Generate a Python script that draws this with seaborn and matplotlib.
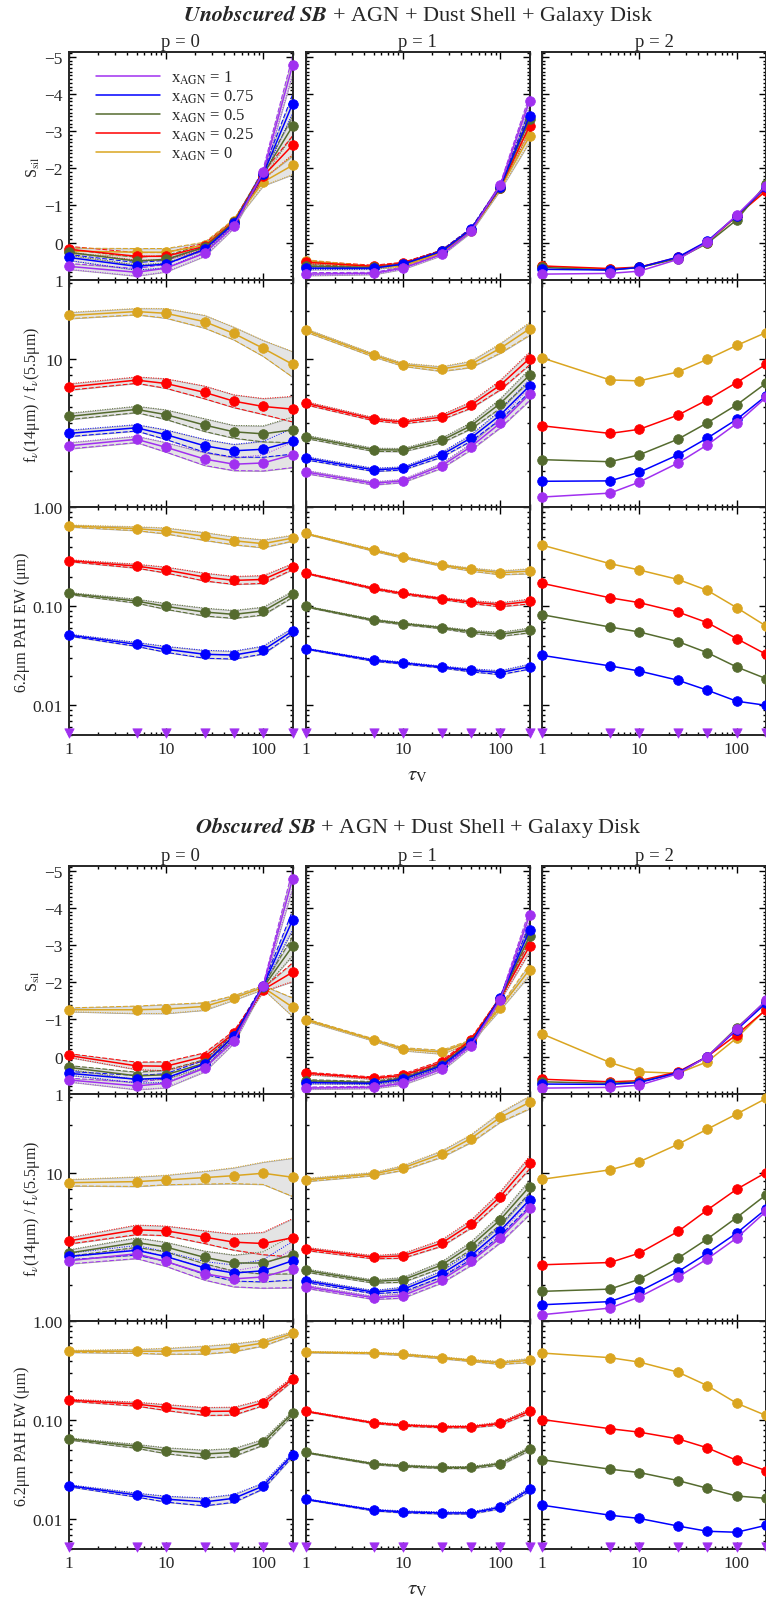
import matplotlib
matplotlib.use('Agg')
import matplotlib.pyplot as plt
import matplotlib.ticker as mticker
from matplotlib.lines import Line2D
import numpy as np
import pandas as pd
import seaborn as sns

TAU = [1, 5, 10, 25, 50, 100, 200]
X_AGN = ['1', '0.75', '0.5', '0.25', '0']
COLORS = ['#A030F0', '#0000FF', '#556B2F', '#FF0000', '#DAA520']
P_LABELS = ['p = 0', 'p = 1', 'p = 2']

# ---- Unobscured SB ----
# silicate strength, rows: x_AGN = 1, 0.75, 0.5, 0.25, 0
U_SSIL_P0 = [[0.64, 0.80, 0.69, 0.29, -0.44, -1.89, -4.77],
             [0.40, 0.64, 0.58, 0.18, -0.52, -1.84, -3.73],
             [0.26, 0.50, 0.45, 0.13, -0.55, -1.84, -3.13],
             [0.18, 0.37, 0.37, 0.10, -0.56, -1.79, -2.62],
             [0.23, 0.26, 0.26, 0.07, -0.58, -1.63, -2.08]]
U_SSIL_P1 = [[0.85, 0.83, 0.69, 0.32, -0.30, -1.54, -3.81],
             [0.69, 0.69, 0.58, 0.23, -0.36, -1.50, -3.40],
             [0.64, 0.67, 0.58, 0.24, -0.34, -1.48, -3.32],
             [0.53, 0.64, 0.56, 0.24, -0.34, -1.48, -3.13],
             [0.50, 0.67, 0.64, 0.27, -0.31, -1.46, -2.86]]
U_SSIL_P2 = [[0.85, 0.83, 0.77, 0.45, -0.01, -0.74, -1.52],
             [0.72, 0.74, 0.67, 0.39, -0.04, -0.72, -1.49],
             [0.67, 0.74, 0.67, 0.43, 0.02, -0.61, -1.57],
             [0.63, 0.70, 0.66, 0.40, -0.02, -0.72, -1.39],
             [0.64, 0.72, 0.67, 0.42, 0.00, -0.71, -1.44]]
# f(14um)/f(5.5um)
U_RATIO_P0 = [[2.87, 3.15, 2.81, 2.37, 2.20, 2.24, 2.52],
              [3.43, 3.72, 3.37, 2.87, 2.67, 2.73, 3.06],
              [4.38, 4.85, 4.50, 3.87, 3.51, 3.41, 3.61],
              [6.70, 7.40, 7.05, 6.20, 5.46, 5.06, 4.87],
              [18.8, 19.9, 19.4, 17.2, 14.5, 11.7, 9.3]]
U_RATIO_P1 = [[1.97, 1.67, 1.73, 2.15, 2.83, 3.98, 6.04],
              [2.40, 2.03, 2.07, 2.52, 3.21, 4.47, 6.81],
              [3.27, 2.71, 2.70, 3.10, 3.83, 5.28, 7.94],
              [5.31, 4.22, 4.04, 4.34, 5.16, 6.88, 10.1],
              [15.2, 10.6, 9.26, 8.70, 9.30, 11.7, 15.5]]
U_RATIO_P2 = [[1.37, 1.45, 1.70, 2.24, 2.91, 3.96, 5.76],
              [1.72, 1.73, 1.96, 2.52, 3.21, 4.20, 5.89],
              [2.35, 2.28, 2.52, 3.16, 4.00, 5.18, 7.08],
              [3.83, 3.43, 3.64, 4.47, 5.57, 7.15, 9.30],
              [10.2, 7.42, 7.32, 8.33, 10.0, 12.2, 14.7]]
# 6.2um PAH EW, rows: x_AGN = 0.75, 0.5, 0.25, 0 (x_AGN = 1 has no PAH)
U_PAH_P0 = [[0.0513, 0.0413, 0.0368, 0.0328, 0.0322, 0.0362, 0.0563],
            [0.135, 0.113, 0.100, 0.0876, 0.083, 0.0897, 0.132],
            [0.29, 0.255, 0.233, 0.198, 0.183, 0.187, 0.252],
            [0.65, 0.61, 0.58, 0.51, 0.46, 0.43, 0.49]]
U_PAH_P1 = [[0.0374, 0.0285, 0.0268, 0.0244, 0.0226, 0.0214, 0.0246],
            [0.0998, 0.0727, 0.0669, 0.0609, 0.0555, 0.0522, 0.0572],
            [0.217, 0.152, 0.135, 0.120, 0.1105, 0.104, 0.112],
            [0.546, 0.37, 0.315, 0.261, 0.236, 0.219, 0.227]]
U_PAH_P2 = [[0.032, 0.025, 0.0222, 0.0179, 0.0142, 0.011, 0.0100],
            [0.0824, 0.0618, 0.0551, 0.044, 0.034, 0.0244, 0.0186],
            [0.171, 0.122, 0.109, 0.0876, 0.0684, 0.0472, 0.0328],
            [0.416, 0.27, 0.233, 0.187, 0.145, 0.097, 0.0633]]

# ---- Obscured SB ----
O_SSIL_P0 = [[0.63, 0.79, 0.72, 0.31, -0.42, -1.90, -4.78],
             [0.45, 0.61, 0.58, 0.20, -0.56, -1.90, -3.67],
             [0.29, 0.52, 0.49, 0.18, -0.54, -1.86, -2.97],
             [-0.03, 0.25, 0.26, 0.00, -0.63, -1.80, -2.27],
             [-1.26, -1.26, -1.28, -1.35, -1.58, -1.86, -1.33]]
O_SSIL_P1 = [[0.85, 0.83, 0.72, 0.34, -0.29, -1.53, -3.80],
             [0.70, 0.72, 0.61, 0.25, -0.36, -1.58, -3.40],
             [0.65, 0.70, 0.59, 0.22, -0.39, -1.56, -3.24],
             [0.45, 0.58, 0.51, 0.16, -0.45, -1.56, -2.97],
             [-0.99, -0.45, -0.20, -0.12, -0.41, -1.31, -2.34]]
O_SSIL_P2 = [[0.85, 0.83, 0.77, 0.46, 0.00, -0.75, -1.51],
             [0.74, 0.75, 0.70, 0.43, 0.00, -0.72, -1.44],
             [0.68, 0.72, 0.68, 0.45, 0.00, -0.77, -1.49],
             [0.61, 0.68, 0.65, 0.41, 0.00, -0.59, -1.26],
             [-0.61, 0.16, 0.41, 0.45, 0.14, -0.50, -1.28]]
O_RATIO_P0 = [[2.83, 3.13, 2.80, 2.35, 2.18, 2.24, 2.53],
              [3.01, 3.29, 3.01, 2.55, 2.37, 2.45, 2.83],
              [3.16, 3.68, 3.45, 2.97, 2.74, 2.74, 3.09],
              [3.77, 4.42, 4.36, 3.98, 3.70, 3.63, 3.94],
              [8.73, 8.86, 9.08, 9.39, 9.66, 10.0, 9.44]]
O_RATIO_P1 = [[1.95, 1.66, 1.71, 2.15, 2.80, 3.93, 6.04],
              [2.12, 1.80, 1.87, 2.34, 3.05, 4.36, 6.81],
              [2.46, 2.10, 2.15, 2.66, 3.51, 5.11, 8.25],
              [3.36, 2.98, 3.04, 3.65, 4.80, 7.14, 11.65],
              [9.08, 9.90, 10.8, 13.2, 16.5, 22.4, 27.8]]
O_RATIO_P2 = [[1.30, 1.43, 1.68, 2.24, 2.91, 3.93, 5.76],
              [1.50, 1.57, 1.82, 2.42, 3.16, 4.22, 5.96],
              [1.82, 1.88, 2.17, 2.94, 3.88, 5.28, 7.32],
              [2.67, 2.76, 3.16, 4.32, 5.90, 7.94, 10.1],
              [9.17, 10.5, 11.8, 15.2, 18.9, 23.5, 29.4]]
O_PAH_P0 = [[0.0219, 0.0176, 0.016, 0.015, 0.0163, 0.0217, 0.045],
            [0.065, 0.0547, 0.0494, 0.0457, 0.0475, 0.060, 0.118],
            [0.16, 0.146, 0.135, 0.123, 0.124, 0.151, 0.262],
            [0.498, 0.50, 0.50, 0.514, 0.543, 0.606, 0.755]]
O_PAH_P1 = [[0.016, 0.0124, 0.0119, 0.0116, 0.0116, 0.0132, 0.0201],
            [0.0475, 0.0364, 0.0347, 0.0334, 0.0334, 0.0364, 0.0518],
            [0.124, 0.0946, 0.0896, 0.0862, 0.0862, 0.093, 0.124],
            [0.49, 0.48, 0.464, 0.43, 0.404, 0.382, 0.404]]
O_PAH_P2 = [[0.0139, 0.011, 0.0102, 0.00855, 0.00757, 0.0074, 0.0087],
            [0.040, 0.0321, 0.0297, 0.0246, 0.0206, 0.0172, 0.0163],
            [0.102, 0.0823, 0.076, 0.065, 0.0527, 0.0394, 0.0311],
            [0.479, 0.43, 0.388, 0.307, 0.224, 0.149, 0.112]]

# x_AGN = 1: PAH undetected, plotted as limits at the floor
PAH_LIMIT = [0.0053, 0.0053, 0.0053, 0.0053, 0.0053, 0.0053, 0.0053]

# half-widths of the grey model spread (S_sil in units, log panels in dex)
U_BAND_SSIL = [[0.08, 0.10, 0.10, 0.08, 0.05, 0.10, 0.25], [0.04, 0.03, 0.03, 0.03, 0.03, 0.05, 0.15]]
U_BAND_RATIO = [[0.02, 0.02, 0.03, 0.04, 0.04, 0.05, 0.08], [0.01, 0.01, 0.01, 0.015, 0.02, 0.03, 0.04]]
U_BAND_PAH = [[0.01, 0.02, 0.03, 0.04, 0.04, 0.04, 0.03], [0.005, 0.01, 0.01, 0.01, 0.015, 0.02, 0.025]]
O_BAND_SSIL = [[0.05, 0.10, 0.12, 0.10, 0.06, 0.05, 0.25], [0.03, 0.03, 0.04, 0.05, 0.04, 0.05, 0.15]]
O_BAND_RATIO = [[0.02, 0.03, 0.03, 0.04, 0.05, 0.07, 0.12], [0.01, 0.01, 0.015, 0.02, 0.025, 0.03, 0.04]]
O_BAND_PAH = [[0.01, 0.02, 0.03, 0.04, 0.04, 0.03, 0.02], [0.005, 0.008, 0.01, 0.01, 0.01, 0.015, 0.02]]

W, H = 766, 1606
COL_X = [68.5, 305.5, 542.0]
COL_W = 224.0
ROW_H = 227.7
BLOCK_TOP = [53.0, 867.0]
TITLE_Y = [15.0, 828.0]


def draw_series(ax, rows, colors, band, log):
    """Draw grey spreads first, then the model lines with markers."""
    if band is not None:
        for vals, col in zip(rows, colors):
            v = np.array(vals)
            b = np.array(band)
            if log:
                lo, hi = v * 10 ** (-b), v * 10 ** b
            else:
                lo, hi = v - b, v + b
            ax.fill_between(TAU, lo, hi, color='#E4E4E4', edgecolor='#A8A8A8',
                            lw=0.6, zorder=1, clip_on=False)
            ax.plot(TAU, lo, ls=(0, (5, 2)), color=col, lw=0.7, zorder=2, clip_on=False)
            ax.plot(TAU, hi, ls=(0, (1, 1.5)), color=col, lw=0.7, zorder=2, clip_on=False)
    for vals, col in reversed(list(zip(rows, colors))):
        df = pd.DataFrame({'tau': TAU, 'val': vals})
        sns.lineplot(data=df, x='tau', y='val', ax=ax, color=col, lw=1.1,
                     marker='o', markersize=7, markeredgecolor=col,
                     markeredgewidth=0.5, clip_on=False, zorder=4, legend=False)


def style_axis(ax, kind, first_col, last_row):
    ax.set_xscale('log')
    ax.set_xlim(1, 200)
    ax.xaxis.set_major_locator(mticker.FixedLocator([1, 10, 100]))
    ax.xaxis.set_minor_locator(mticker.LogLocator(base=10, subs=np.arange(2, 10)))
    if last_row:
        ax.xaxis.set_major_formatter(mticker.FixedFormatter(['1', '10', '100']))
    else:
        ax.xaxis.set_major_formatter(mticker.NullFormatter())
    ax.xaxis.set_minor_formatter(mticker.NullFormatter())

    if kind == 'ssil':
        ax.set_ylim(1.0, -5.13)
        ax.yaxis.set_major_locator(mticker.FixedLocator([-5, -4, -3, -2, -1, 0, 1]))
        ax.yaxis.set_minor_locator(mticker.MultipleLocator(0.1))
        labels = ['\u22125', '\u22124', '\u22123', '\u22122', '\u22121', '0', '1']
        ylabel = r'S$_{\rm sil}$'
    elif kind == 'ratio':
        ax.set_yscale('log')
        ax.set_ylim(1.18, 31.5)
        ax.yaxis.set_major_locator(mticker.FixedLocator([10]))
        ax.yaxis.set_minor_locator(mticker.LogLocator(base=10, subs=np.arange(2, 10)))
        labels = ['10']
        ylabel = r'f$_\nu$(14μm) / f$_\nu$(5.5μm)'
    else:
        ax.set_yscale('log')
        ax.set_ylim(0.005, 1.0)
        ax.yaxis.set_major_locator(mticker.FixedLocator([0.01, 0.1, 1.0]))
        ax.yaxis.set_minor_locator(mticker.LogLocator(base=10, subs=np.arange(2, 10)))
        labels = ['0.01', '0.10', '1.00']
        ylabel = '6.2μm PAH EW (μm)'
    ax.yaxis.set_minor_formatter(mticker.NullFormatter())
    if first_col:
        ax.yaxis.set_major_formatter(mticker.FixedFormatter(labels))
        ax.set_ylabel(ylabel, fontsize=11.5)
        ax.yaxis.set_label_coords(-0.118 if kind != 'pah' else -0.17, 0.5)
    else:
        ax.yaxis.set_major_formatter(mticker.NullFormatter())
        ax.set_ylabel('')
    ax.set_xlabel('')
    ax.tick_params(which='both', direction='in', top=True, right=True,
                   width=1.0, labelsize=12.5, color='black')
    ax.tick_params(which='major', length=5, pad=4)
    ax.tick_params(which='minor', length=2.5)
    for s in ax.spines.values():
        s.set_linewidth(1.4)
        s.set_zorder(3)


def main():
    sns.set_theme(style='ticks')
    plt.rcParams['font.family'] = ['Liberation Serif', 'DejaVu Serif']
    plt.rcParams['mathtext.fontset'] = 'stix'
    plt.rcParams['axes.unicode_minus'] = True

    fig = plt.figure(figsize=(W / 100, H / 100), dpi=100)

    blocks = [
        ('Unobscured',
         [U_SSIL_P0, U_SSIL_P1, U_SSIL_P2],
         [U_RATIO_P0, U_RATIO_P1, U_RATIO_P2],
         [U_PAH_P0, U_PAH_P1, U_PAH_P2],
         U_BAND_SSIL, U_BAND_RATIO, U_BAND_PAH),
        ('Obscured',
         [O_SSIL_P0, O_SSIL_P1, O_SSIL_P2],
         [O_RATIO_P0, O_RATIO_P1, O_RATIO_P2],
         [O_PAH_P0, O_PAH_P1, O_PAH_P2],
         O_BAND_SSIL, O_BAND_RATIO, O_BAND_PAH),
    ]

    for b, (name, ssil, ratio, pah, bs, br, bp) in enumerate(blocks):
        fig.text(418 / W, 1 - TITLE_Y[b] / H,
                 r'$\mathbfit{' + name + r'\ SB}$ + AGN + Dust Shell + Galaxy Disk',
                 ha='center', va='center', fontsize=16)
        for c in range(3):
            for r in range(3):
                top = BLOCK_TOP[b] + r * ROW_H
                rect = [COL_X[c] / W, 1 - (top + ROW_H) / H, COL_W / W, ROW_H / H]
                ax = fig.add_axes(rect)
                if r == 0:
                    draw_series(ax, ssil[c], COLORS, bs[c] if c < 2 else None, log=False)
                    style_axis(ax, 'ssil', c == 0, False)
                    ax.set_title(P_LABELS[c], fontsize=13.5, pad=4)
                elif r == 1:
                    draw_series(ax, ratio[c], COLORS, br[c] if c < 2 else None, log=True)
                    style_axis(ax, 'ratio', c == 0, False)
                else:
                    draw_series(ax, pah[c], COLORS[1:], bp[c] if c < 2 else None, log=True)
                    sns.scatterplot(x=TAU, y=PAH_LIMIT, ax=ax, marker='v', s=45,
                                    color=COLORS[0], edgecolor=COLORS[0],
                                    clip_on=False, zorder=5, legend=False)
                    style_axis(ax, 'pah', c == 0, True)
                    if c == 1:
                        ax.set_xlabel(r'$\tau_{\rm V}$', fontsize=15, labelpad=6)
                if b == 0 and r == 0 and c == 0:
                    handles = [Line2D([0], [0], color=col, lw=1.1) for col in COLORS]
                    labels = [r'x$_{\rm AGN}$ = ' + x for x in X_AGN]
                    ax.legend(handles, labels, loc='upper left',
                              bbox_to_anchor=(0.08, 0.97), frameon=False,
                              fontsize=12, handlelength=3.8, handletextpad=0.7,
                              labelspacing=0.1, borderaxespad=0.2)

    fig.savefig('out.png', dpi=100)


if __name__ == '__main__':
    main()
